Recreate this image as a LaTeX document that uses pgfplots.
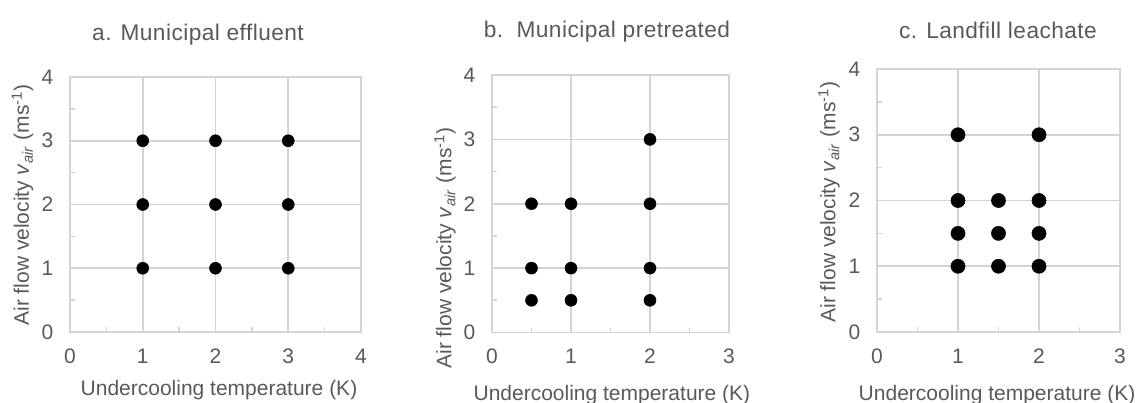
\documentclass[border=0pt]{standalone}
\usepackage{fontspec}
\setmainfont{Liberation Sans}
\usepackage{pgfplots}
\pgfplotsset{compat=1.18}
\definecolor{gridc}{HTML}{D4D4D4}
\definecolor{txt}{HTML}{595959}
\newcommand{\tickfont}{\fontsize{15.75}{18}\selectfont}
\newcommand{\titlefont}{\fontsize{17}{20}\selectfont\addfontfeature{LetterSpace=2}}
\newcommand{\ylab}{Air flow velocity \textit{v}\textsubscript{\textit{air}} (ms\textsuperscript{-1})}
\pgfplotsset{
  every axis title shift=0pt,
  panel/.style={
    scale only axis,
    /pgf/number format/assume math mode=true,
    axis line style={gridc, line width=1.3pt},
    grid=major,
    major grid style={gridc, line width=1.3pt},
    ymin=0, ymax=4, ytick={0,1,2,3,4},
    minor tick num=1,
    major tick length=0pt,
    minor tick length=3.5pt,
    tick align=inside,
    xtick pos=bottom, ytick pos=left,
    every tick/.style={gridc, line width=1.3pt},
    tick label style={font=\tickfont, text=txt},
    label style={font=\tickfont, text=txt},
    title style={font=\titlefont, text=txt, anchor=center},
    yticklabel style={xshift=-9pt},
    xticklabel style={yshift=-9pt},
    only marks,
    clip=false,
  },
  dot/.style={mark=*, mark options={fill=black, draw=black}, black},
}
\begin{document}
\begin{tikzpicture}
\path[use as bounding box] (0,0) rectangle (854.25pt,302.25pt);
% panel a
\begin{axis}[panel, at={(52.5pt,53.25pt)}, anchor=south west,
  width=218.25pt, height=191.25pt,
  xmin=0, xmax=4, xtick={0,1,2,3,4},
  title={a. Municipal effluent},
  title style={at={(axis description cs:0.44,1.165)}},
  xlabel={Undercooling temperature (K)},
  xlabel style={at={(axis description cs:0.512,-0.227)}, anchor=center},
  ylabel={\ylab},
  ylabel style={at={(axis description cs:-0.163,0.498)}, anchor=center},
]
\addplot[dot, mark size=4.5pt] coordinates {
(1,1) (1,2) (1,3) (2,1) (2,2) (2,3) (3,1) (3,2) (3,3)};
\end{axis}
% panel b
\begin{axis}[panel, at={(369pt,52.875pt)}, anchor=south west,
  width=177.75pt, height=193.125pt,
  xmin=0, xmax=3, xtick={0,1,2,3},
  title={b.\ \ Municipal pretreated},
  title style={at={(axis description cs:0.485,1.17)}},
  xlabel={Undercooling temperature (K)},
  xlabel style={at={(axis description cs:0.506,-0.243)}, anchor=center},
  ylabel={\ylab},
  ylabel style={at={(axis description cs:-0.198,0.328)}, anchor=center},
]
\addplot[dot, mark size=4.5pt] coordinates {
(0.5,0.5) (0.5,1) (0.5,2) (1,0.5) (1,1) (1,2) (2,0.5) (2,1) (2,2) (2,3)};
\end{axis}
% panel c
\begin{axis}[panel, at={(657.75pt,53.25pt)}, anchor=south west,
  width=182.25pt, height=197.25pt,
  xmin=0, xmax=3, xtick={0,1,2,3},
  title={c. Landfill leachate},
  title style={at={(axis description cs:0.498,1.145)}},
  xlabel={Undercooling temperature (K)},
  xlabel style={at={(axis description cs:0.494,-0.24)}, anchor=center},
  ylabel={\ylab},
  ylabel style={at={(axis description cs:-0.198,0.494)}, anchor=center},
]
\addplot[dot, mark size=5.3pt] coordinates {
(1,1) (1,1.5) (1,2) (1,3) (1.5,1) (1.5,1.5) (1.5,2) (2,1) (2,1.5) (2,2) (2,3)};
\end{axis}
\end{tikzpicture}
\end{document}
